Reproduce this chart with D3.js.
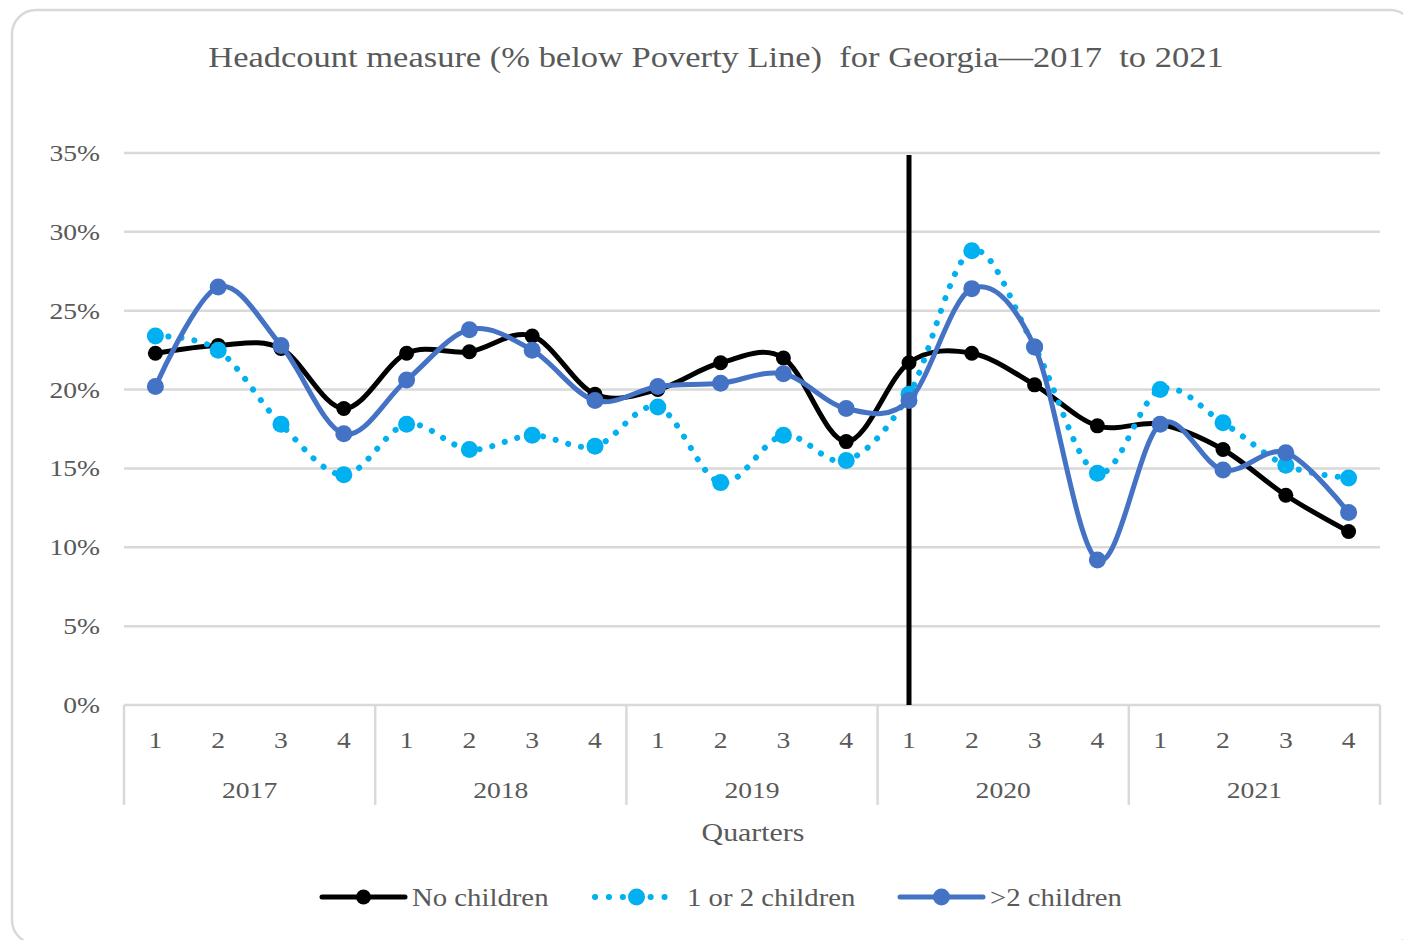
<!DOCTYPE html>
<html>
<head>
<meta charset="utf-8">
<script src="https://cdn.jsdelivr.net/npm/d3@7"></script>
<style>
  body { margin: 0; background: #fff; }
  text { font-family: "Liberation Serif", "Times New Roman", serif; fill: #595959; }
</style>
</head>
<body>
<div id="chart"></div>
<script>
// quarters and years along the x axis
const years = ["2017", "2018", "2019", "2020", "2021"];
const quarters = ["1", "2", "3", "4"];

// headcount values (%) per quarter
const noChildren = [22.3, 22.8, 22.6, 18.8, 22.3, 22.4, 23.4, 19.7, 20.0, 21.7, 22.0, 16.7, 21.7, 22.3, 20.3, 17.7, 17.8, 16.2, 13.3, 11.0];
const oneTwoChildren = [23.4, 22.5, 17.8, 14.6, 17.8, 16.2, 17.1, 16.4, 18.9, 14.1, 17.1, 15.5, 19.7, 28.8, 22.7, 14.7, 20.0, 17.9, 15.2, 14.4];
const moreChildren = [20.2, 26.5, 22.8, 17.2, 20.6, 23.8, 22.5, 19.3, 20.2, 20.4, 21.0, 18.8, 19.3, 26.4, 22.7, 9.2, 17.8, 14.9, 16.0, 12.2];

const yTicks = [0, 5, 10, 15, 20, 25, 30, 35];
const markerIndex = 12; // 2020 Q1, vertical marker line

const width = 1403, height = 940;
const margin = {top: 153, right: 23, bottom: 235, left: 124};
const stretch = 1.15; // the original text is set wider than Liberation Serif

let svg = d3.select("#chart").append("svg")
    .attr("width", width)
    .attr("height", height);

// text with the horizontal stretch applied
function label(parent, x, y, txt, size, anchor) {
    return parent.append("text")
        .attr("transform", "translate(" + x + "," + y + ") scale(" + stretch + ",1)")
        .attr("text-anchor", anchor || "start")
        .attr("font-size", size)
        .style("white-space", "pre")
        .text(txt);
}

// outer frame
svg.append("rect")
    .attr("x", 12).attr("y", 10)
    .attr("width", 1402).attr("height", 934)
    .attr("rx", 24)
    .attr("fill", "none")
    .attr("stroke", "#d9d9d9")
    .attr("stroke-width", 2.5);

label(svg, 716, 67, "Headcount measure (% below Poverty Line)  for Georgia\u20142017  to 2021", 30, "middle");

let cats = [];
years.forEach(yr => quarters.forEach(q => cats.push(yr + "-" + q)));

let x = d3.scaleBand()
    .domain(cats)
    .range([margin.left, width - margin.right]);

let y = d3.scaleLinear()
    .domain([0, 35])
    .range([height - margin.bottom, margin.top]);

let cx = i => x(cats[i]) + x.bandwidth() / 2;

// gridlines
svg.append("g")
    .selectAll("line")
    .data(yTicks)
    .enter().append("line")
    .attr("x1", margin.left).attr("x2", width - margin.right)
    .attr("y1", d => y(d)).attr("y2", d => y(d))
    .attr("stroke", "#d9d9d9")
    .attr("stroke-width", 2.5);

// y labels
let yLab = svg.append("g");
yTicks.forEach(d => label(yLab, 100, y(d) + 8, d + "%", 24, "end"));

// x axis: quarter labels, year labels and separators
let base = y(0);
let xLab = svg.append("g");
cats.forEach((d, i) => label(xLab, cx(i), base + 43, d.split("-")[1], 24, "middle"));

let yearBand = x.bandwidth() * quarters.length;
years.forEach((d, i) => label(xLab, margin.left + yearBand * (i + 0.5), base + 93, d, 24, "middle"));

svg.append("g")
    .selectAll("line")
    .data(d3.range(years.length + 1))
    .enter().append("line")
    .attr("x1", i => margin.left + yearBand * i)
    .attr("x2", i => margin.left + yearBand * i)
    .attr("y1", base).attr("y2", base + 100)
    .attr("stroke", "#d9d9d9")
    .attr("stroke-width", 2.5);

label(svg, 753, 841, "Quarters", 26, "middle");

// vertical marker at 2020 Q1
svg.append("line")
    .attr("x1", cx(markerIndex)).attr("x2", cx(markerIndex))
    .attr("y1", 155).attr("y2", base)
    .attr("stroke", "#000")
    .attr("stroke-width", 5);

const series = [
    {name: "No children", values: noChildren, color: "#000000", dash: null, r: 7.5},
    {name: "1 or 2 children", values: oneTwoChildren, color: "#00b0f0", dash: "0.1 13", r: 8.5},
    {name: ">2 children", values: moreChildren, color: "#4472c4", dash: null, r: 8.5}
];

let line = d3.line()
    .x((d, i) => cx(i))
    .y(d => y(d))
    .curve(d3.curveCatmullRom.alpha(0));

// black first, then dotted, blue on top
series.forEach(s => {
    let g = svg.append("g");
    g.append("path")
        .datum(s.values)
        .attr("d", line)
        .attr("fill", "none")
        .attr("stroke", s.color)
        .attr("stroke-width", s.dash ? 6 : 5)
        .attr("stroke-linecap", "round")
        .attr("stroke-dasharray", s.dash);
    g.selectAll("circle")
        .data(s.values)
        .enter().append("circle")
        .attr("cx", (d, i) => cx(i))
        .attr("cy", d => y(d))
        .attr("r", s.r)
        .attr("fill", s.color);
});

// legend
const legendX = [322, 595, 900];
let legend = svg.append("g");
series.forEach((s, i) => {
    let lx = legendX[i];
    legend.append("line")
        .attr("x1", lx).attr("x2", lx + 83)
        .attr("y1", 897).attr("y2", 897)
        .attr("stroke", s.color)
        .attr("stroke-width", s.dash ? 6 : 5)
        .attr("stroke-linecap", "round")
        .attr("stroke-dasharray", s.dash ? "0.1 13.8" : null);
    legend.append("circle")
        .attr("cx", lx + 41.5).attr("cy", 897)
        .attr("r", s.r)
        .attr("fill", s.color);
    label(legend, lx + (i == 1 ? 92 : 90), 906, s.name, 25);
});
</script>
</body>
</html>
